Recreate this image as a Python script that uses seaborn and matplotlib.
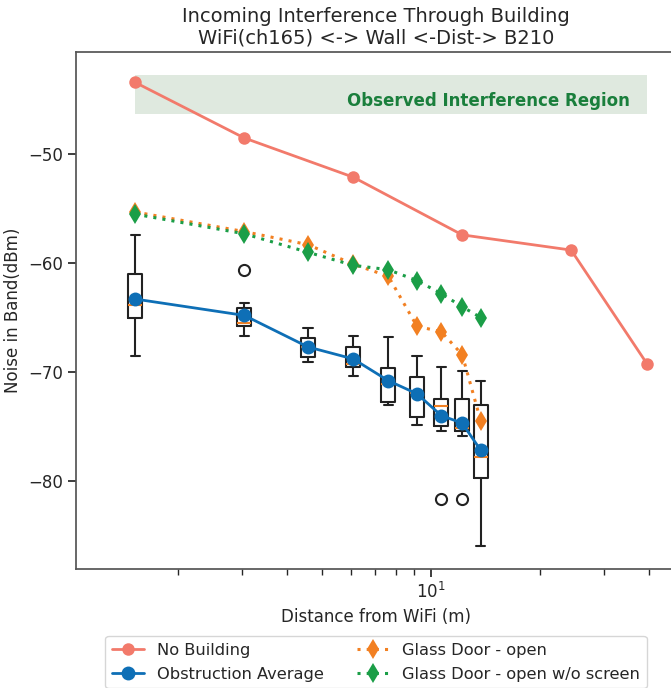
import matplotlib
matplotlib.use("Agg")
import matplotlib.pyplot as plt
import seaborn as sns

# Distances (m) for each measurement set
dist_free = [1.524, 3.048, 6.096, 12.19, 24.38, 39.6]
dist_obs = [1.524, 3.048, 4.572, 6.096, 7.62, 9.144, 10.67, 12.19, 13.72]

# Noise level without the building in the way
noise_free = [-43.4, -48.5, -52.1, -57.4, -58.8, -69.3]

# Glass door measurements
door_open = [-55.3, -57.1, -58.3, -60.1, -61.2, -65.8, -66.3, -68.4, -74.5]
door_open_noscreen = [-55.5, -57.3, -59.0, -60.2, -60.6, -61.6, -62.8, -64.0, -65.0]

# Box statistics of the obstruction measurements
obs_mean = [-63.3, -64.8, -67.7, -68.8, -70.8, -72.0, -74.0, -74.7, -77.2]
obs_med = [-63.8, -65.5, -67.7, -69.3, -71.1, -71.9, -73.1, -75.1, -77.8]
obs_q1 = [-65.0, -65.8, -68.6, -69.5, -72.8, -74.1, -75.0, -75.4, -79.7]
obs_q3 = [-61.0, -64.1, -66.9, -67.7, -69.6, -70.5, -72.5, -72.5, -73.0]
obs_lo = [-68.5, -66.7, -69.1, -70.4, -73.0, -74.9, -75.4, -75.9, -86.0]
obs_hi = [-57.4, -63.7, -66.0, -66.7, -66.8, -68.5, -69.5, -69.9, -70.8]
obs_fliers = [[], [-60.6], [], [], [], [], [-81.7], [-81.7], []]

# Observed interference band
band_lo, band_hi = -46.3, -42.7

sns.set_theme(context="notebook", style="ticks")
plt.rcParams['font.family'] = ['DejaVu Sans']

c_red = '#f27a6b'
c_blue = '#0e6fb6'
c_orange = '#f28022'
c_green = '#1b9e47'

fig = plt.figure(figsize=(6.71, 6.88), dpi=100)
ax = fig.add_axes([76 / 671, 119 / 688, 600 / 671, 517 / 688])
ax.set_xscale('log')

# shaded region
ax.fill_between([dist_free[0], dist_free[-1]], band_lo, band_hi,
                color='#dfe9df', lw=0, zorder=0)
ax.text(35.5, (band_lo + band_hi) / 2 - 0.6, 'Observed Interference Region',
        ha='right', va='center', color='#1a7f3c', fontweight='bold', fontsize=12)

# boxplots
stats = []
for i in range(len(dist_obs)):
    stats.append({'med': obs_med[i], 'q1': obs_q1[i], 'q3': obs_q3[i],
                  'whislo': obs_lo[i], 'whishi': obs_hi[i],
                  'fliers': obs_fliers[i]})
widths = [0.09 * p for p in dist_obs]
ax.bxp(stats, positions=dist_obs, widths=widths,
       capwidths=[0.65 * w for w in widths], manage_ticks=False,
       boxprops=dict(color='#222222', lw=1.5),
       whiskerprops=dict(color='#222222', lw=1.5),
       capprops=dict(color='#222222', lw=1.5),
       medianprops=dict(color=c_orange, lw=1.5),
       flierprops=dict(marker='o', markerfacecolor='none',
                       markeredgecolor='#222222', markersize=8, mew=1.5))

sns.lineplot(x=dist_free, y=noise_free, ax=ax, color=c_red, marker='o',
             markersize=9, markeredgewidth=0, lw=2, label='No Building', zorder=4)
sns.lineplot(x=dist_obs, y=obs_mean, ax=ax, color=c_blue, marker='o',
             markersize=10, markeredgewidth=0, lw=2, label='Obstruction Average', zorder=4)
sns.lineplot(x=dist_obs, y=door_open, ax=ax, color=c_orange, marker='d',
             markersize=10, markeredgewidth=0, lw=2.2, linestyle=(0, (1, 2)),
             label='Glass Door - open', zorder=4)
sns.lineplot(x=dist_obs, y=door_open_noscreen, ax=ax, color=c_green, marker='d',
             markersize=10, markeredgewidth=0, lw=2.2, linestyle=(0, (1, 2)),
             label='Glass Door - open w/o screen', zorder=4)

ax.set_xlim(1.045, 47.5)
ax.set_ylim(-88.1, -40.6)
ax.set_yticks([-50, -60, -70, -80])
ax.tick_params(labelsize=12)
ax.set_xlabel('Distance from WiFi (m)', fontsize=12)
ax.set_ylabel('Noise in Band(dBm)', fontsize=12)
ax.set_title('Incoming Interference Through Building\nWiFi(ch165) <-> Wall <-Dist-> B210',
             fontsize=14)
for s in ax.spines.values():
    s.set_color('#555555')

handles, labels = ax.get_legend_handles_labels()
ax.get_legend().remove()
fig.legend(handles, labels, ncol=2, loc='upper center',
           bbox_to_anchor=(376 / 671, 60 / 688), fontsize=11.7,
           labelspacing=0.55, frameon=True)

fig.savefig('out.png', dpi=100)
